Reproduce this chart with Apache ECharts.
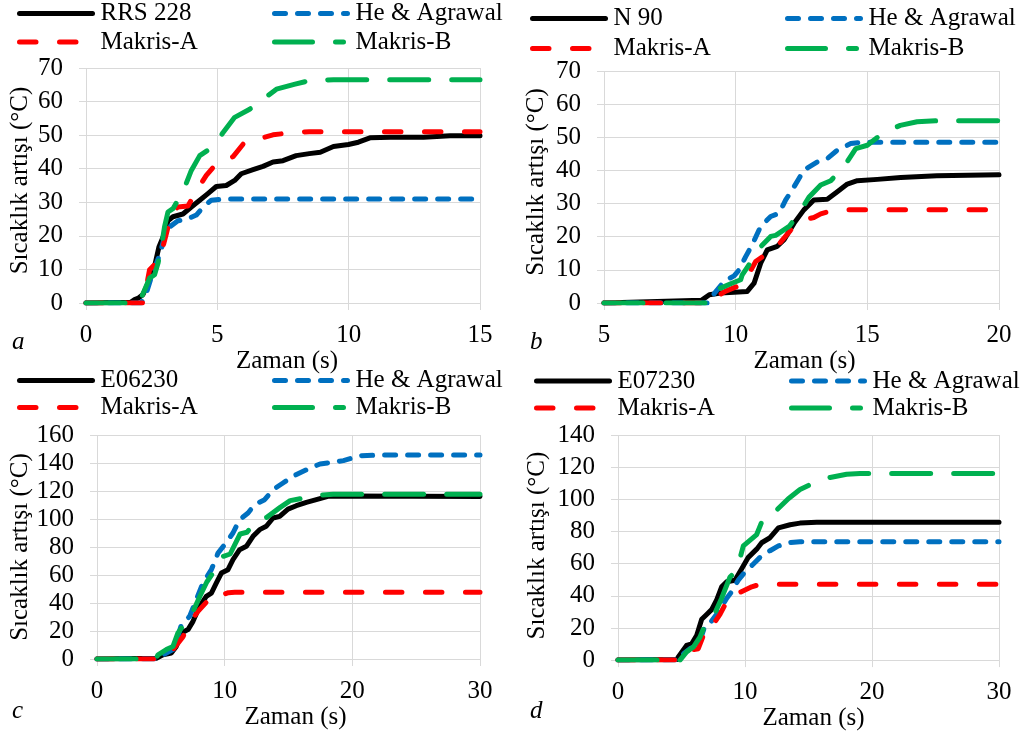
<!DOCTYPE html>
<html>
<head>
<meta charset="utf-8">
<script src="https://cdn.jsdelivr.net/npm/echarts@6/dist/echarts.min.js"></script>
<style>
    html, body {margin: 0; padding: 0; background: #fff;}
    #main {width: 1025px; height: 732px;}
</style>
</head>
<body>
<div id="main"></div>
<script>
// values, pairs of [zaman (s), sicaklik artisi (C)]

// a
var rrs228 = [[0, 0], [1.7, 0.2], [1.85, 1], [2.0, 1.5], [2.17, 2.5], [2.42, 6.9], [2.61, 10.9], [2.78, 16.8], [2.99, 20.7], [3.12, 24.5], [3.31, 25.7], [3.69, 26.5], [4.01, 28.6], [4.33, 30.6], [4.64, 32.6], [4.96, 34.7], [5.34, 35], [5.66, 36.5], [5.91, 38.5], [6.36, 39.7], [6.74, 40.7], [7.12, 42], [7.5, 42.4], [8.0, 43.9], [8.5, 44.5], [8.92, 44.9], [9.42, 46.6], [9.99, 47.2], [10.37, 47.9], [10.81, 49.2], [11.58, 49.4], [12.85, 49.4], [13.86, 49.8], [15, 49.8]];
var heA = [[0, 0], [2.1, 0], [2.3, 3], [2.5, 8], [2.82, 14.7], [3.0, 20], [3.19, 22.7], [3.5, 24.5], [3.82, 24.9], [4.2, 26.2], [4.52, 29.1], [4.77, 30.6], [5.22, 31], [15, 31]];
var makrisAa = [[0, 0], [2.15, 0], [2.3, 4.9], [2.42, 9.9], [2.55, 10.9], [2.74, 12.8], [2.93, 16.8], [3.06, 20.7], [3.25, 26.7], [3.5, 28.6], [3.88, 28.9], [4.26, 34.1], [4.58, 38], [4.96, 41.5], [5.34, 42.4], [5.6, 43.6], [6.04, 47.9], [6.48, 48.7], [7.12, 50.1], [7.88, 50.8], [8.5, 51], [15, 51]];
var makrisBa = [[0, 0], [2.05, 0], [2.1, 1.5], [2.23, 3.9], [2.42, 7.4], [2.61, 8.4], [2.74, 11.8], [2.87, 16.8], [2.99, 22.7], [3.12, 27.1], [3.31, 28.1], [3.69, 33.1], [4.01, 39.5], [4.33, 43.9], [4.9, 46.9], [5.22, 50.8], [5.66, 55.3], [6.23, 57.7], [6.74, 60.7], [7.25, 63.7], [7.96, 65.2], [8.53, 66.3], [9.42, 66.5], [15, 66.5]];

// b
var n90 = [[5, 0], [8.7, 0.8], [9.0, 2.5], [9.43, 3], [10.44, 3.5], [10.7, 6], [10.95, 12], [11.2, 16], [11.58, 17.1], [11.84, 19.1], [12.22, 24.1], [12.59, 28.1], [12.97, 31.1], [13.48, 31.3], [13.86, 33.6], [14.24, 35.9], [14.62, 36.9], [15.38, 37.3], [16.27, 37.9], [17.64, 38.4], [20, 38.7]];
var heB = [[5, 0], [8.95, 0], [9.2, 3], [9.56, 6.5], [9.94, 8.2], [10.13, 10], [10.38, 14], [10.63, 17.6], [10.95, 23.1], [11.33, 26.1], [11.65, 27.1], [11.9, 31.1], [12.22, 35.1], [12.59, 40.1], [13.1, 42.6], [13.48, 43.6], [13.86, 46.1], [14.37, 48.1], [14.75, 48.5], [20, 48.5]];
var makrisAb = [[5, 0], [8.95, 0], [9.2, 1.5], [9.6, 3.5], [10.06, 5], [10.44, 8], [10.76, 12.5], [11.2, 15], [11.7, 18.3], [12.09, 22], [12.59, 25.1], [12.97, 25.8], [13.23, 26.9], [13.73, 28.1], [20, 28.1]];
var makrisBb = [[5, 0], [8.95, 0], [9.15, 3], [9.43, 4.5], [9.81, 5.8], [10.19, 7], [10.25, 8.5], [10.63, 13], [10.95, 17], [11.33, 20.1], [11.52, 20.4], [12.03, 23.1], [12.41, 27.1], [12.78, 31.9], [13.23, 35.6], [13.61, 36.9], [14.11, 41.1], [14.56, 46.6], [15.0, 47.6], [15.62, 51.4], [16.25, 53.6], [16.89, 54.7], [17.64, 55], [20, 55]];

// c
var e06230 = [[0, 0], [4.65, 0.5], [5.17, 3], [5.82, 4.3], [6.21, 9], [6.61, 18.6], [7.13, 21], [7.52, 26.9], [8.04, 37.6], [8.56, 44.8], [8.96, 47.1], [9.35, 54.3], [9.74, 61.4], [10.26, 63.8], [10.65, 71], [11.17, 78.1], [11.7, 80.5], [12.22, 87.6], [12.74, 92.4], [13.26, 94.8], [13.79, 100.7], [14.31, 101.9], [14.96, 107.1], [15.61, 109.5], [16.4, 111.9], [17.18, 113.8], [18.09, 116.2], [19.5, 116.5], [30, 116]];
var heC = [[0, 0], [4.7, 0], [5.17, 3], [5.95, 6.7], [6.3, 15], [6.61, 24.5], [7.26, 30.5], [7.78, 42.4], [8.3, 54.3], [8.96, 63.8], [9.48, 75.7], [10.0, 81.7], [10.65, 90], [11.17, 99.5], [11.83, 104.3], [12.35, 110.2], [13.13, 113.8], [13.79, 121], [14.57, 125.7], [15.35, 130.5], [16.4, 135.2], [17.47, 139.3], [19.3, 141.7], [20.6, 145.2], [22.4, 145.7], [30, 145.7]];
var makrisAc = [[0, 0], [4.7, 0], [5.3, 2], [5.95, 6.7], [6.74, 16], [7.26, 25.7], [7.91, 34], [8.56, 40.5], [8.83, 39.3], [9.22, 42.4], [9.61, 45.2], [10.3, 47.4], [10.8, 47.6], [30, 47.6]];
var makrisBc = [[0, 0], [4.6, 0], [4.78, 3], [5.43, 6.7], [5.95, 9], [6.34, 18.6], [7.0, 26.9], [7.3, 28.6], [7.52, 34], [8.08, 45.2], [8.6, 55], [9.12, 61.9], [9.65, 72.6], [10.43, 75], [11.21, 89.3], [11.74, 90.5], [12.52, 98.8], [13.3, 101.2], [14.35, 108.3], [15.13, 113.1], [16.44, 115.5], [16.96, 116.7], [18.5, 117.7], [30, 117.7]];

// d
var e07230 = [[0, 0], [4.65, 0.3], [4.75, 2], [5.4, 9.1], [5.8, 10.1], [6.19, 15.2], [6.59, 25.4], [6.98, 28.4], [7.37, 31.4], [7.77, 37.5], [8.16, 45.6], [8.56, 48.7], [9.21, 49.7], [9.74, 56.8], [10.26, 63.9], [10.92, 69], [11.31, 73], [11.97, 76.1], [12.63, 82.2], [13.55, 84.2], [14.33, 85.2], [15.65, 85.7], [30, 85.7]];
var heD = [[0, 0], [4.8, 0], [5.0, 3], [5.67, 7.1], [6.32, 9.1], [6.85, 21.3], [7.37, 24.3], [8.03, 31.4], [8.56, 38.5], [8.95, 42.6], [9.47, 49.7], [10.0, 54.8], [10.66, 59.8], [11.31, 64.9], [11.97, 68], [12.63, 71], [13.41, 73], [14.33, 73.6], [30, 73.6]];
var makrisAd = [[0, 0], [4.85, 0], [5.2, 2], [5.67, 6.1], [6.32, 7.1], [6.72, 15.2], [6.98, 21.3], [7.5, 22.3], [8.03, 28.4], [8.56, 36.5], [8.95, 36.9], [9.47, 41.6], [10.53, 45.6], [11.18, 47.1], [30, 47.1]];
var makrisBd = [[0, 0], [4.88, 0], [5.4, 5.1], [5.93, 8.1], [6.45, 14.2], [6.98, 24.3], [7.64, 29.4], [8.16, 38.5], [8.82, 51.7], [9.34, 55.8], [9.87, 71], [10.92, 78.1], [11.44, 88.3], [12.23, 91.3], [13.41, 100.4], [14.33, 106.1], [15.25, 109.6], [16.7, 113.6], [18.0, 115.6], [19.06, 116], [30, 116]];

var measuredNames = ['RRS 228', 'N 90', 'E06230', 'E07230'];
var modelNames = ['He & Agrawal', 'Makris-A', 'Makris-B'];
var panelLetters = ['a', 'b', 'c', 'd'];
var measured = [rrs228, n90, e06230, e07230];
var heAgrawal = [heA, heB, heC, heD];
var makrisA = [makrisAa, makrisAb, makrisAc, makrisAd];
var makrisB = [makrisBa, makrisBb, makrisBc, makrisBd];
var xRange = [[0, 15, 5], [5, 20, 5], [0, 30, 10], [0, 30, 10]];
var yRange = [[0, 70, 10], [0, 70, 10], [0, 160, 20], [0, 140, 20]];

// layout (pixels)
var grids = [
    {left: 86, top: 68, width: 394, height: 235},
    {left: 604, top: 71, width: 395, height: 232},
    {left: 97, top: 435, width: 383, height: 224},
    {left: 618, top: 435, width: 381, height: 230}
];
var legendPos = [
    {c1: 17, c2: 272, top: 1, gap: 3.5},
    {c1: 530, c2: 785, top: 6, gap: 5},
    {c1: 17, c2: 272, top: 368, gap: 2},
    {c1: 534, c2: 789, top: 368.5, gap: 2}
];
var yNameGap = [53, 55, 64, 68];
var yNameShift = [10, 10, 0, 4];   // nudges the rotated title upward
var xNameGap = [30, 28, 38, 34];
var xNameShift = [8, 6, 14, 10];   // nudges "Zaman (s)" to the right
var letterPos = [[12, 330], [530, 330], [12, 699], [530, 699]];

var FONT = 'Liberation Serif';
var GRID_COLOR = '#d9d9d9';
var LINE_W = 5;
var colors = {black: '#000000', blue: '#0070c0', red: '#ff0000', green: '#00b050'};

// plain serif text
function txt(extra) {
    var s = {fontFamily: FONT, fontSize: 25, color: '#000'};
    for (var k in extra) s[k] = extra[k];
    return s;
}

var mChart = echarts.init(document.getElementById('main'));

var option = {
    animation: false,
    backgroundColor: '#fff',
    textStyle: {fontFamily: FONT, fontSize: 25, color: '#000'},
    grid: [],
    xAxis: [],
    yAxis: [],
    legend: [],
    series: [],
    graphic: []
};

function lineSeries(name, data, i, color, dash) {
    return {
        name: name,
        type: 'line',
        xAxisIndex: i,
        yAxisIndex: i,
        data: data,
        symbol: 'none',
        showSymbol: false,
        lineStyle: {color: color, width: LINE_W, type: dash, cap: 'round', join: 'round'},
        itemStyle: {color: color},
        emphasis: {disabled: true}
    };
}

// legend column: two entries stacked, no marker in the middle of the line
function legendCol(left, top, gap, items) {
    return {
        left: left,
        top: top,
        orient: 'vertical',
        padding: 0,
        itemGap: gap,
        itemWidth: 73,
        itemHeight: 2,
        selectedMode: false,
        data: items,
        itemStyle: {opacity: 0, borderWidth: 0},
        lineStyle: {width: LINE_W},
        textStyle: txt({lineHeight: 25, padding: [0, 0, 0, 3]})
    };
}

for (var i = 0; i < 4; i++) {
    var g = grids[i];
    option.grid.push({left: g.left, top: g.top, width: g.width, height: g.height, containLabel: false});

    option.xAxis.push({
        type: 'value',
        gridIndex: i,
        min: xRange[i][0],
        max: xRange[i][1],
        interval: xRange[i][2],
        name: 'Zaman (s)',
        nameLocation: 'middle',
        nameGap: xNameGap[i],
        nameTextStyle: txt({padding: [0, 0, 0, xNameShift[i]]}),
        axisLine: {show: false},
        axisTick: {show: true, length: 7, lineStyle: {color: GRID_COLOR}},
        axisLabel: txt({margin: 20}),
        splitLine: {show: true, lineStyle: {color: GRID_COLOR, width: 1}}
    });

    option.yAxis.push({
        type: 'value',
        gridIndex: i,
        min: yRange[i][0],
        max: yRange[i][1],
        interval: yRange[i][2],
        name: 'Sıcaklık artışı (°C)',
        nameLocation: 'middle',
        nameGap: yNameGap[i],
        nameTextStyle: txt({padding: [0, 0, 0, yNameShift[i]]}),
        axisLine: {show: false},
        axisTick: {show: true, length: 7, lineStyle: {color: GRID_COLOR}},
        axisLabel: txt({margin: 23}),
        splitLine: {show: true, lineStyle: {color: GRID_COLOR, width: 1}}
    });

    option.series.push(lineSeries(measuredNames[i], measured[i], i, colors.black, 'solid'));
    option.series.push(lineSeries(modelNames[0], heAgrawal[i], i, colors.blue, [11, 12]));
    option.series.push(lineSeries(modelNames[1], makrisA[i], i, colors.red, [16.5, 23.5]));
    option.series.push(lineSeries(modelNames[2], makrisB[i], i, colors.green, [39, 23]));

    var lp = legendPos[i];
    option.legend.push(legendCol(lp.c1, lp.top, lp.gap, [
        {name: measuredNames[i]},
        {name: modelNames[1]}
    ]));
    option.legend.push(legendCol(lp.c2, lp.top, lp.gap, [
        {name: modelNames[0]},
        {name: modelNames[2], lineStyle: {type: [38, 23, 8, 23]}}
    ]));

    option.graphic.push({
        type: 'text',
        left: letterPos[i][0],
        top: letterPos[i][1],
        style: {text: panelLetters[i], fontFamily: FONT, fontSize: 25, fontStyle: 'italic', fill: '#000'}
    });
}

mChart.setOption(option);
</script>
</body>
</html>
